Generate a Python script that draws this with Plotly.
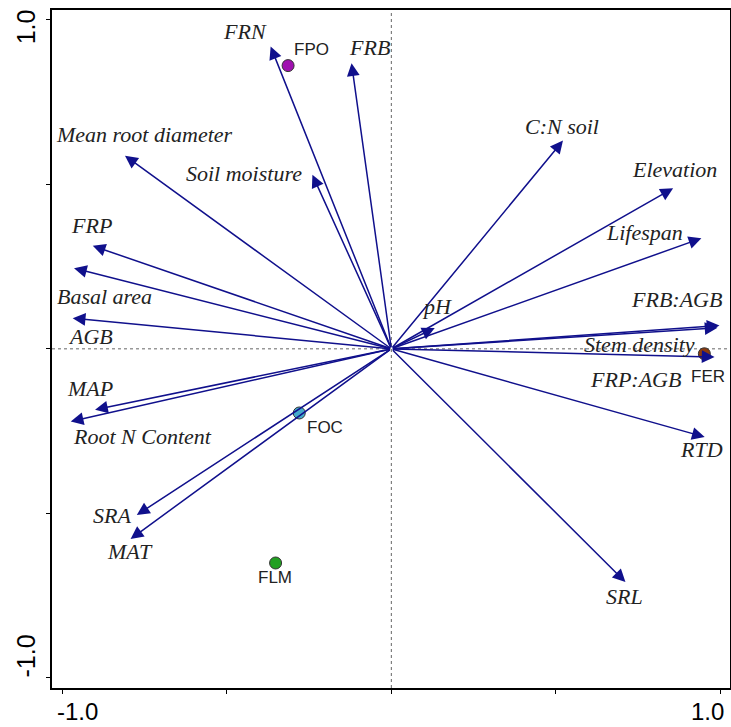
import plotly.graph_objects as go

# ---- data ----
variables = ["FRN", "FRB", "Soil moisture", "Mean root diameter", "FRP", "Basal area",
             "AGB", "MAP", "Root N Content", "SRA", "MAT", "SRL", "RTD", "FRP:AGB",
             "Stem density", "FRB:AGB", "Lifespan", "Elevation", "C:N soil", "pH"]
var_x = [-0.367, -0.121, -0.240, -0.810, -0.908, -0.965, -0.969, -0.901, -0.975, -0.774,
         -0.793, 0.712, 0.953, 0.983, 0.992, 0.998, 0.943, 0.857, 0.522, 0.132]
var_y = [0.919, 0.868, 0.529, 0.587, 0.313, 0.245, 0.093, -0.185, -0.221, -0.505,
         -0.578, -0.709, -0.268, -0.025, 0.064, 0.071, 0.336, 0.488, 0.633, 0.063]
# label anchor positions (data units)
var_label_x = [-0.445, -0.065, -0.448, -0.752, -0.913, -0.871, -0.916, -0.916, -0.758, -0.850,
               -0.795, 0.710, 0.944, 0.743, 0.755, 0.868, 0.771, 0.862, 0.518, 0.138]
var_label_y = [0.964, 0.915, 0.532, 0.653, 0.374, 0.158, 0.036, -0.122, -0.267, -0.508,
               -0.617, -0.754, -0.307, -0.094, 0.012, 0.149, 0.353, 0.544, 0.675, 0.128]

sites = ["FPO", "FER", "FOC", "FLM"]
site_x = [-0.314, 0.952, -0.280, -0.352]
site_y = [0.861, -0.015, -0.195, -0.651]
site_colors = ["#A010B0", "#8B3A0E", "#45AACB", "#22A022"]
site_label_x = [-0.242, 0.962, -0.202, -0.354]
site_label_y = [0.909, -0.085, -0.240, -0.696]

tick_vals = [-1.0, -0.5, 0.0, 0.5, 1.0]
x_label_vals = [-0.954, 0.962]
y_label_vals = [-0.945, 0.967]
tick_text = ["-1.0", "1.0"]

XR = [-1.032, 1.030]
YR = [-1.031, 1.030]

ARROW = "#10108C"
TXT = "#222222"

fig = go.Figure()

# site points
fig.add_trace(go.Scatter(
    x=site_x, y=site_y, mode="markers",
    marker=dict(size=12, color=site_colors, line=dict(color="#333333", width=1)),
    hoverinfo="skip", showlegend=False))

# invisible trace for the label axes
fig.add_trace(go.Scatter(x=[0], y=[0], xaxis="x2", yaxis="y2", mode="markers",
                         marker=dict(opacity=0), showlegend=False, hoverinfo="skip"))

ann = []
for name, x, y in zip(variables, var_x, var_y):
    ann.append(dict(x=x, y=y, ax=0, ay=0, xref="x", yref="y", axref="x", ayref="y",
                    text="", showarrow=True, arrowhead=2, arrowsize=1.7, arrowwidth=1.5,
                    arrowcolor=ARROW, standoff=0, startstandoff=0))
for name, x, y in zip(variables, var_label_x, var_label_y):
    ann.append(dict(x=x, y=y, xref="x", yref="y", text="<i>%s</i>" % name, showarrow=False,
                    font=dict(family="Liberation Serif", size=22, color=TXT),
                    xanchor="center", yanchor="middle"))
for name, x, y in zip(sites, site_label_x, site_label_y):
    ann.append(dict(x=x, y=y, xref="x", yref="y", text=name, showarrow=False,
                    font=dict(family="Liberation Sans", size=17, color=TXT),
                    xanchor="center", yanchor="middle"))

shapes = [
    dict(type="line", xref="x", yref="y", x0=XR[0], x1=XR[1], y0=0, y1=0,
         line=dict(color="#666666", width=1, dash="dot"), layer="below"),
    dict(type="line", xref="x", yref="y", x0=0, x1=0, y0=YR[0], y1=YR[1],
         line=dict(color="#666666", width=1, dash="dot"), layer="below"),
]

axis_common = dict(showgrid=False, zeroline=False, showline=True, linecolor="black",
                   linewidth=1.5, mirror=True, ticks="outside", ticklen=4, tickwidth=1,
                   tickcolor="black", tickvals=tick_vals, showticklabels=False,
                   automargin=False)

fig.update_layout(
    width=731, height=727,
    margin=dict(l=52, r=1, t=10, b=39),
    paper_bgcolor="white", plot_bgcolor="white",
    xaxis=dict(range=XR, **axis_common),
    yaxis=dict(range=YR, **axis_common),
    xaxis2=dict(range=XR, overlaying="x", anchor="y", side="bottom", showgrid=False,
                zeroline=False, showline=False, ticks="", tickvals=x_label_vals,
                ticktext=tick_text, ticklabelstandoff=7, automargin=False,
                tickfont=dict(family="Liberation Sans", size=24, color="black")),
    yaxis2=dict(range=YR, overlaying="y", anchor="x", side="left", showgrid=False,
                zeroline=False, showline=False, ticks="", tickvals=y_label_vals,
                ticktext=tick_text, tickangle=-90, ticklabelstandoff=11, automargin=False,
                tickfont=dict(family="Liberation Sans", size=25, color="black")),
    annotations=ann, shapes=shapes, showlegend=False,
)

fig.write_html("out.html")
